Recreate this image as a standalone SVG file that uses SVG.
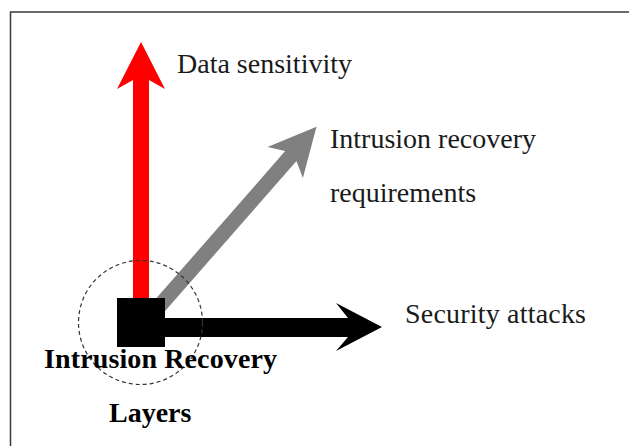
<svg xmlns="http://www.w3.org/2000/svg" width="629" height="446" viewBox="0 0 629 446">
  <style>
    .label { font-family: "Liberation Serif", "Times New Roman", serif; font-size: 28px; fill: #1a1a1a; }
    .bold { font-weight: bold; fill: #000; }
    .frame { fill: none; stroke: #3a3a3a; stroke-width: 1.5; }
  </style>
  <rect width="629" height="446" fill="#ffffff"/>
  <!-- frame: only top and left edges fall inside the canvas -->
  <path class="frame" d="M10.5,460 V12 H640"/>

  <g id="connectors">
    <!-- data sensitivity axis -->
    <polygon id="axis-data" fill="#ff0000" points="141,42 165,89 149,80 149,300 133,300 133,80 117,89"/>
    <!-- recovery requirements axis -->
    <g id="axis-requirements" transform="translate(316.5,126.7) rotate(-48.8)">
      <polygon fill="#808080" points="0,0 -47.5,-23.5 -39,-7.5 -242,-7.5 -242,7.5 -39,7.5 -47.5,23.5"/>
    </g>
    <!-- security attacks axis -->
    <polygon id="axis-attacks" fill="#000000" points="382,327 336,303 348,318 160,318 160,337 348,337 336,351"/>
  </g>

  <g id="origin">
    <circle cx="140.5" cy="322.5" r="62" fill="none" stroke="#333" stroke-width="1.2" stroke-dasharray="4,3"/>
    <rect x="117" y="298" width="48" height="49" fill="#000"/>
    <text class="label bold" x="44" y="368" textLength="233">Intrusion Recovery</text>
    <text class="label bold" x="109" y="422">Layers</text>
  </g>

  <g id="data-sensitivity">
    <text class="label" x="177" y="73">Data sensitivity</text>
  </g>

  <g id="recovery-requirements">
    <text class="label" x="330" y="148">Intrusion recovery</text>
    <text class="label" x="330" y="202">requirements</text>
  </g>

  <g id="security-attacks">
    <text class="label" x="405" y="323" textLength="181">Security attacks</text>
  </g>
</svg>
